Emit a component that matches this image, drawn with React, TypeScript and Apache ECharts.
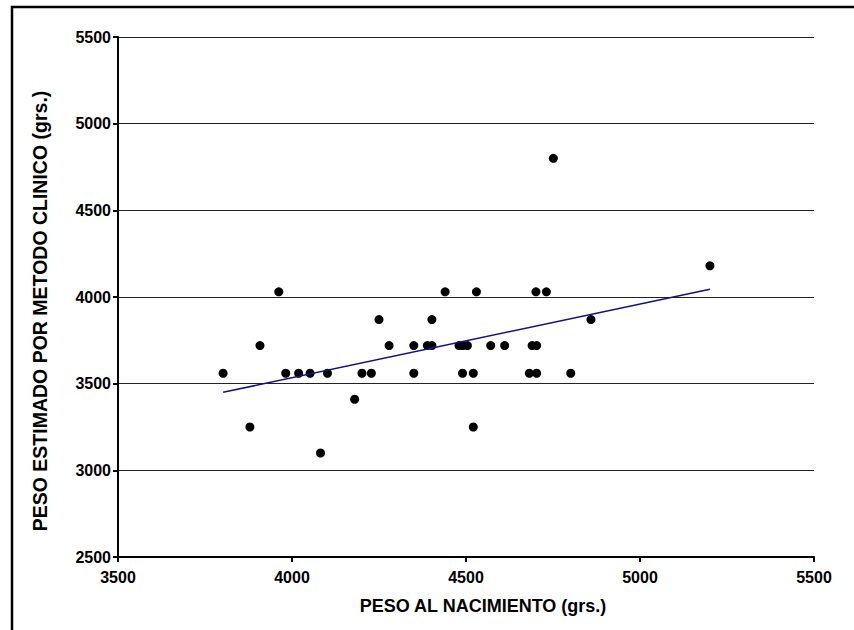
import React, { useEffect, useRef } from "react";
import * as echarts from "echarts";

// Birth weight (x) vs clinically estimated weight (y), in grams
const birthWeight = [
  3802, 3879, 3908, 3962, 3982, 4019, 4052, 4082, 4102, 4180,
  4201, 4228, 4250, 4279, 4350, 4350, 4389, 4402, 4402, 4440,
  4480, 4491, 4504, 4490, 4521, 4521, 4530, 4571, 4611, 4682,
  4690, 4703, 4703, 4701, 4731, 4751, 4801, 4859, 5201,
];
const estimatedWeight = [
  3560, 3250, 3720, 4030, 3560, 3560, 3560, 3100, 3560, 3410,
  3560, 3560, 3870, 3720, 3720, 3560, 3720, 3720, 3870, 4030,
  3720, 3720, 3720, 3560, 3560, 3250, 4030, 3720, 3720, 3560,
  3720, 3720, 3560, 4030, 4030, 4800, 3560, 3870, 4180,
];
// Regression line end points
const fitX = [3802, 5201];
const fitY = [3450, 4045];

const xTitle = "PESO AL NACIMIENTO (grs.)";
const yTitle = "PESO ESTIMADO POR METODO CLINICO (grs.)";

export default function App() {
  const ref = useRef<HTMLDivElement>(null);
  useEffect(() => {
    document.body.style.margin = "0";
    const chart = echarts.init(ref.current!, undefined, { renderer: "svg" });
    const points = birthWeight.map((x, i) => [x, estimatedWeight[i]]);
    const fit = fitX.map((x, i) => [x, fitY[i]]);
    const font = "Arial, 'Liberation Sans', sans-serif";
    const fmt = (v: number) => String(v);
    chart.setOption({
      animation: false,
      backgroundColor: "#ffffff",
      grid: { left: 118, right: 40, top: 37, bottom: 73, containLabel: false },
      xAxis: {
        type: "value",
        min: 3500,
        max: 5500,
        interval: 500,
        axisLine: { show: true, onZero: false, lineStyle: { color: "#000", width: 2 } },
        axisTick: { show: true, length: 5, lineStyle: { color: "#000", width: 2 } },
        axisLabel: { color: "#000", fontSize: 16, fontWeight: "bold", fontFamily: font, margin: 12, formatter: fmt },
        splitLine: { show: false },
      },
      yAxis: {
        type: "value",
        min: 2500,
        max: 5500,
        interval: 500,
        axisLine: { show: true, onZero: false, lineStyle: { color: "#000", width: 2 } },
        axisTick: { show: true, length: 5, lineStyle: { color: "#000", width: 2 } },
        axisLabel: { color: "#000", fontSize: 16, fontWeight: "bold", fontFamily: font, margin: 7, formatter: fmt },
        splitLine: { show: true, lineStyle: { color: "#222", width: 1 } },
      },
      series: [
        {
          type: "scatter",
          data: points,
          symbol: "circle",
          symbolSize: 9,
          itemStyle: { color: "#000", opacity: 1 },
          z: 3,
        },
        {
          type: "line",
          data: fit,
          symbol: "none",
          lineStyle: { color: "#10108a", width: 1.6 },
          z: 4,
        },
      ],
      graphic: [
        {
          type: "rect",
          shape: { x: 12, y: 7, width: 900, height: 700 },
          style: { fill: "none", stroke: "#000", lineWidth: 2.5 },
          silent: true,
        },
        {
          type: "text",
          x: 483,
          y: 606,
          style: {
            text: xTitle,
            fill: "#000",
            font: `bold 18px ${font}`,
            textAlign: "center",
            textVerticalAlign: "middle",
          },
        },
        {
          type: "text",
          x: 40,
          y: 311,
          rotation: Math.PI / 2,
          style: {
            text: yTitle,
            fill: "#000",
            font: `bold 19.5px ${font}`,
            textAlign: "center",
            textVerticalAlign: "middle",
          },
        },
      ],
    });
    return () => chart.dispose();
  }, []);
  return <div ref={ref} style={{ width: 854, height: 630 }} />;
}
